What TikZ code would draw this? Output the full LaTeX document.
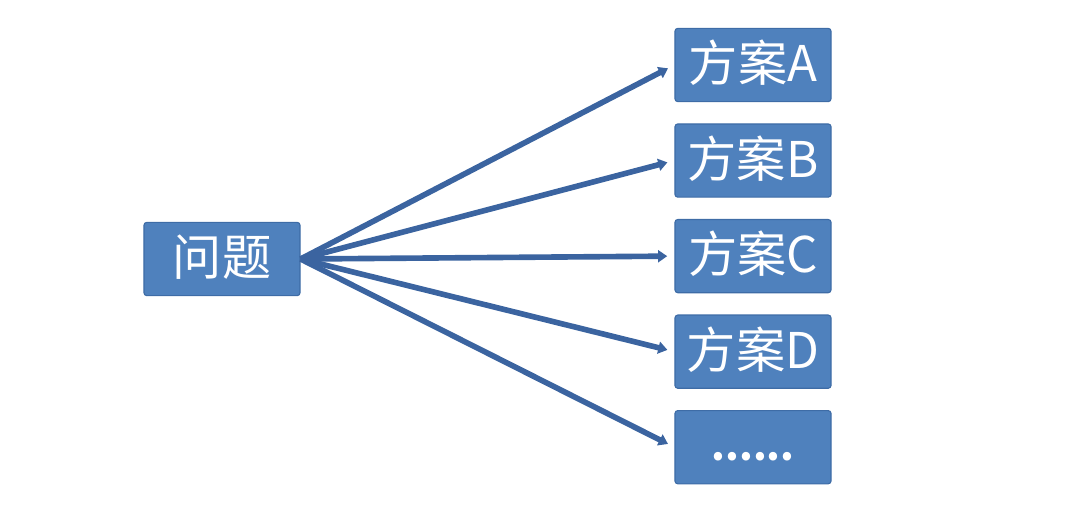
\documentclass[tikz,border=0pt]{standalone}
\usepackage{fontspec}
\newfontfamily\cjk{Noto Sans CJK SC}
\usetikzlibrary{arrows.meta,positioning}
\definecolor{boxblue}{HTML}{4F81BD}
\definecolor{boxedge}{HTML}{3E6CA6}
\definecolor{linkblue}{HTML}{3B64A0}

\tikzset{
  optbox/.style={draw=boxedge, line width=0.8pt, fill=boxblue, rounded corners=2pt,
    minimum width=3.9cm, minimum height=1.83cm, inner sep=0pt,
    text=white, font=\cjk\fontsize{35}{40}\selectfont, text height=29pt, text depth=5pt},
  link/.style={draw=linkblue, line width=4pt, -{Triangle[width=8.5pt,length=6.5pt]}, shorten >=0.18cm}
}

\begin{document}
\begin{tikzpicture}[x=0.025cm, y=-0.025cm]
\useasboundingbox (0,0) rectangle (1080,516);
% problem and options
\node[optbox] (problem) at (222,259) {问题};
\node[optbox] (optA) at (753,65) {方案A};
\node[optbox, below=0.53cm of optA] (optB) {方案B};
\node[optbox, below=0.53cm of optB] (optC) {方案C};
\node[optbox, below=0.53cm of optC] (optD) {方案D};
\node[optbox, below=0.53cm of optD, font=\cjk\bfseries\fontsize{28}{32}\selectfont, text height=23pt, text depth=4pt] (optE) {......};
% links
\foreach \opt in {optA,optB,optC,optD,optE}
  \draw[link] (problem.east) -- (\opt.west);
\end{tikzpicture}
\end{document}
